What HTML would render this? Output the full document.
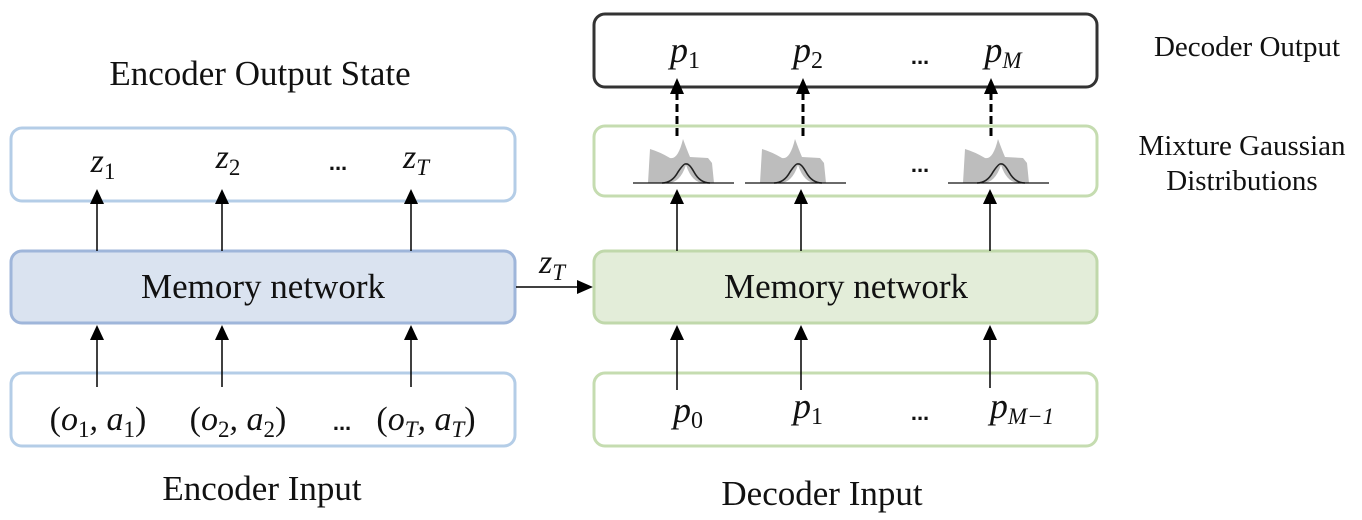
<!DOCTYPE html>
<html><head><meta charset="utf-8"><style>
html,body{margin:0;padding:0;background:#fff;}
svg{display:block;}
.t{font-family:"Liberation Serif",serif;fill:#111;}
.m{font-family:"Liberation Serif",serif;font-style:italic;fill:#111;}
.d{font-family:"Liberation Sans",sans-serif;font-weight:bold;fill:#111;}
</style></head><body>
<svg width="1362" height="520" viewBox="0 0 1362 520" xmlns="http://www.w3.org/2000/svg">
<defs>
<g id="gauss">
<path d="M648,183 L650,149 Q660,152 670,158 Q678,160 683,139 Q687,150 690,157 L708,158 L712,163 L714,183 Z" fill="#bdbdbd"/>
<path d="M668,183 Q680,183 686,165 Q692,183 704,183 Z" fill="#fff"/>
<path d="M662,183 Q672,183 678,172 Q684,163 686,164 Q689,163 694,172 Q700,183 710,183" fill="none" stroke="#222" stroke-width="1.6"/>
<line x1="633" y1="183" x2="734" y2="183" stroke="#111" stroke-width="1.2"/>
</g>
</defs>
<!-- Left titles -->
<text class="t" x="260" y="85" font-size="35" text-anchor="middle">Encoder Output State</text>
<text class="t" x="262" y="500" font-size="35" text-anchor="middle">Encoder Input</text>
<!-- Left boxes -->
<rect x="11" y="128" width="504" height="73" rx="11" fill="#fff" stroke="#b4cde7" stroke-width="3"/>
<rect x="11" y="251" width="504" height="72" rx="11" fill="#dae3f0" stroke="#9fb6da" stroke-width="3"/>
<rect x="11" y="373" width="504" height="73" rx="11" fill="#fff" stroke="#b4cde7" stroke-width="3"/>
<text class="t" x="263" y="298" font-size="35" text-anchor="middle">Memory network</text>
<text class="m" x="103" y="172" font-size="34" text-anchor="middle">z<tspan font-size="23" font-style="normal" dy="7">1</tspan></text>
<text class="m" x="228" y="168" font-size="34" text-anchor="middle">z<tspan font-size="23" font-style="normal" dy="7">2</tspan></text>
<text class="d" x="338" y="170" font-size="22" text-anchor="middle">...</text>
<text class="m" x="416" y="168" font-size="34" text-anchor="middle">z<tspan font-size="23" dy="7">T</tspan></text>
<text class="m" x="98" y="430" font-size="34" text-anchor="middle"><tspan font-style="normal">(</tspan>o<tspan font-size="23" font-style="normal" dy="7">1</tspan><tspan dy="-7">, a</tspan><tspan font-size="23" font-style="normal" dy="7">1</tspan><tspan font-style="normal" dy="-7">)</tspan></text>
<text class="m" x="238" y="430" font-size="34" text-anchor="middle"><tspan font-style="normal">(</tspan>o<tspan font-size="23" font-style="normal" dy="7">2</tspan><tspan dy="-7">, a</tspan><tspan font-size="23" font-style="normal" dy="7">2</tspan><tspan font-style="normal" dy="-7">)</tspan></text>
<text class="d" x="342" y="430" font-size="22" text-anchor="middle">...</text>
<text class="m" x="426" y="430" font-size="34" text-anchor="middle"><tspan font-style="normal">(</tspan>o<tspan font-size="23" dy="7">T</tspan><tspan dy="-7">, a</tspan><tspan font-size="23" dy="7">T</tspan><tspan font-style="normal" dy="-7">)</tspan></text>
<!-- Left arrows -->
<g stroke="#000" stroke-width="1.5">
<line x1="97" y1="251" x2="97" y2="200"/><line x1="222" y1="251" x2="222" y2="200"/><line x1="411" y1="251" x2="411" y2="200"/>
<line x1="97" y1="387" x2="97" y2="336"/><line x1="222" y1="387" x2="222" y2="336"/><line x1="411" y1="387" x2="411" y2="336"/>
<line x1="516" y1="287" x2="578" y2="287"/>
</g>
<g fill="#000">
<path d="M90,204 L104,204 L97,189 Z"/><path d="M215,204 L229,204 L222,189 Z"/><path d="M404,204 L418,204 L411,189 Z"/>
<path d="M90,340 L104,340 L97,325 Z"/><path d="M215,340 L229,340 L222,325 Z"/><path d="M404,340 L418,340 L411,325 Z"/>
<path d="M577,280 L577,294 L593,287 Z"/>
</g>
<text class="m" x="552" y="273" font-size="34" text-anchor="middle">z<tspan font-size="23" dy="7">T</tspan></text>
<!-- Right boxes -->
<rect x="594" y="14" width="503" height="73" rx="11" fill="#fff" stroke="#333" stroke-width="3"/>
<rect x="594" y="126" width="503" height="70" rx="11" fill="#fff" stroke="#c5dcb0" stroke-width="3"/>
<rect x="594" y="251" width="503" height="72" rx="11" fill="#e3edd9" stroke="#c0d8ab" stroke-width="3"/>
<rect x="594" y="373" width="503" height="73" rx="11" fill="#fff" stroke="#c5dcb0" stroke-width="3"/>
<text class="t" x="846" y="298" font-size="35" text-anchor="middle">Memory network</text>
<!-- gaussians -->
<use href="#gauss"/>
<use href="#gauss" transform="translate(112,0)"/>
<use href="#gauss" transform="translate(315,0)"/>
<text class="d" x="920" y="172" font-size="22" text-anchor="middle">...</text>
<!-- outputs -->
<text class="m" x="685" y="62" font-size="36" text-anchor="middle">p<tspan font-size="24" font-style="normal" dy="6">1</tspan></text>
<text class="m" x="808" y="62" font-size="36" text-anchor="middle">p<tspan font-size="24" font-style="normal" dy="6">2</tspan></text>
<text class="d" x="920" y="64" font-size="22" text-anchor="middle">...</text>
<text class="m" x="1003" y="62" font-size="36" text-anchor="middle">p<tspan font-size="23" dy="6">M</tspan></text>
<g stroke="#000" stroke-width="3" stroke-dasharray="8,4">
<line x1="677" y1="136" x2="677" y2="92"/><line x1="803" y1="136" x2="803" y2="92"/><line x1="991" y1="136" x2="991" y2="92"/>
</g>
<g fill="#000">
<path d="M670,94 L684,94 L677,78 Z"/><path d="M796,94 L810,94 L803,78 Z"/><path d="M984,94 L998,94 L991,78 Z"/>
</g>
<!-- right solid arrows -->
<g stroke="#000" stroke-width="1.5">
<line x1="677" y1="251" x2="677" y2="200"/><line x1="801" y1="251" x2="801" y2="200"/><line x1="990" y1="251" x2="990" y2="200"/>
<line x1="677" y1="390" x2="677" y2="336"/><line x1="801" y1="390" x2="801" y2="336"/><line x1="990" y1="388" x2="990" y2="336"/>
</g>
<g fill="#000">
<path d="M670,204 L684,204 L677,189 Z"/><path d="M794,204 L808,204 L801,189 Z"/><path d="M983,204 L997,204 L990,189 Z"/>
<path d="M670,340 L684,340 L677,325 Z"/><path d="M794,340 L808,340 L801,325 Z"/><path d="M983,340 L997,340 L990,325 Z"/>
</g>
<text class="m" x="688" y="422" font-size="36" text-anchor="middle">p<tspan font-size="24" font-style="normal" dy="6">0</tspan></text>
<text class="m" x="808" y="418" font-size="36" text-anchor="middle">p<tspan font-size="24" font-style="normal" dy="6">1</tspan></text>
<text class="d" x="920" y="420" font-size="22" text-anchor="middle">...</text>
<text class="m" x="1022" y="418" font-size="36" text-anchor="middle">p<tspan font-size="23" dy="6">M−1</tspan></text>
<text class="t" x="822" y="505" font-size="35" text-anchor="middle">Decoder Input</text>
<!-- right labels -->
<text class="t" x="1247" y="56" font-size="29" text-anchor="middle">Decoder Output</text>
<text class="t" x="1242" y="155" font-size="29" text-anchor="middle">Mixture Gaussian</text>
<text class="t" x="1242" y="190" font-size="29" text-anchor="middle">Distributions</text>
</svg>
</body></html>
